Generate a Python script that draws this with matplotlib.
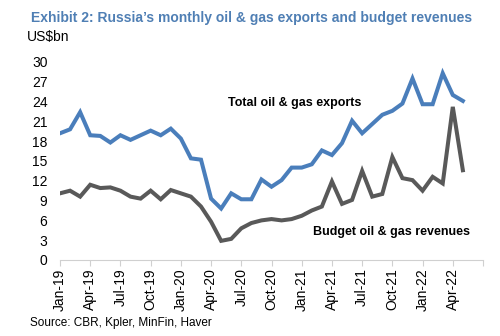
import numpy as np
import matplotlib
matplotlib.use("Agg")
import matplotlib.pyplot as plt

# monthly data Jan-19 .. May-22 (US$bn)
months = ["Jan-19", "Apr-19", "Jul-19", "Oct-19", "Jan-20", "Apr-20", "Jul-20",
          "Oct-20", "Jan-21", "Apr-21", "Jul-21", "Oct-21", "Jan-22", "Apr-22"]
exports = [19.2, 19.8, 22.4, 18.9, 18.8, 17.8, 18.9, 18.2, 18.9, 19.6, 18.9, 19.9,
           18.4, 15.4, 15.2, 9.3, 7.8, 10.1, 9.2, 9.2, 12.2, 11.1, 12.1, 14.0,
           14.0, 14.5, 16.6, 15.9, 17.7, 21.1, 19.2, 20.6, 22.0, 22.6, 23.7, 27.5,
           23.6, 23.6, 28.3, 25.0, 24.1]
budget = [10.1, 10.5, 9.6, 11.4, 10.9, 11.0, 10.5, 9.6, 9.3, 10.5, 9.2, 10.6,
          10.1, 9.6, 8.1, 5.8, 2.9, 3.2, 4.8, 5.6, 6.0, 6.2, 6.0, 6.2,
          6.7, 7.5, 8.1, 11.9, 8.5, 9.1, 13.5, 9.6, 10.0, 15.6, 12.4, 12.1,
          10.5, 12.6, 11.6, 23.2, 13.6]
yticks = [0, 3, 6, 9, 12, 15, 18, 21, 24, 27, 30]

plt.rcParams["font.family"] = ["Liberation Sans", "DejaVu Sans"]

fig = plt.figure(figsize=(5, 3.36), dpi=100)
ax = fig.add_axes([0.12, 0.2262, 0.846, 0.5893])

x = np.arange(len(exports))
ax.plot(x, exports, color="#4a7ebb", lw=2.9, solid_joinstyle="miter")
ax.plot(x, budget, color="#595959", lw=2.9, solid_joinstyle="miter")

ax.set_xlim(0, 42)
ax.set_ylim(0, 30)
ax.set_yticks(yticks)
ax.set_yticklabels([str(v) for v in yticks], fontsize=10)
ax.set_xticks(np.arange(0, 43, 3))
ax.set_xticklabels(months + [""], rotation=90, fontsize=10)
ax.tick_params(axis="y", length=0, pad=9)
ax.tick_params(axis="x", length=4, color="#d0d0d0", pad=2)

for s in ["top", "right", "left"]:
    ax.spines[s].set_visible(False)
ax.spines["bottom"].set_color("#d0d0d0")


# positions in pixels from top-left
def px(xp, yp):
    return xp / 500, 1 - yp / 336


fig.text(*px(228, 103), "Total oil & gas exports", fontsize=9,
         fontweight="bold", va="center")
fig.text(*px(313, 232), "Budget oil & gas revenues", fontsize=9,
         fontweight="bold", va="center")

fig.text(*px(31, 18), "Exhibit 2: Russia\u2019s monthly oil & gas exports and budget revenues",
         color="#4f7fb4", fontsize=10, fontweight="bold", va="center")
fig.text(*px(27, 37), "US$bn", fontsize=10, va="center")
fig.text(*px(30, 323), "Source: CBR, Kpler, MinFin, Haver", fontsize=8.5, va="center")

fig.savefig("out.png", dpi=100)
